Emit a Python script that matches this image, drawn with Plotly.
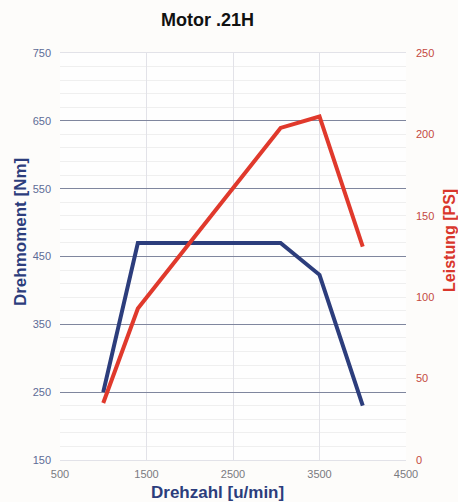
import plotly.graph_objects as go

# Data
rpm_torque = [1000, 1400, 3050, 3500, 4000]
torque_nm = [250, 470, 470, 423, 230]
rpm_power = [1000, 1400, 3050, 3500, 4000]
power_ps = [35, 93, 204, 211, 131]

x_ticks = [500, 1500, 2500, 3500, 4500]
y_left_ticks = [150, 250, 350, 450, 550, 650, 750]
y_right_ticks = [0, 50, 100, 150, 200, 250]

title_text = "Motor .21H"
x_title = "Drehzahl [u/min]"
y_left_title = "Drehmoment [Nm]"
y_right_title = "Leistung [PS]"

BLUE = "#2c3d7c"
RED = "#e0392c"
FONT = "Liberation Sans, Arial, sans-serif"

fig = go.Figure()
fig.add_trace(go.Scatter(x=rpm_torque, y=torque_nm, mode="lines",
                         line=dict(color=BLUE, width=4), yaxis="y",
                         showlegend=False))
fig.add_trace(go.Scatter(x=rpm_power, y=power_ps, mode="lines",
                         line=dict(color=RED, width=4), yaxis="y2",
                         showlegend=False))

fig.update_layout(
    width=458, height=502,
    margin=dict(l=60, r=52, t=53, b=42),
    paper_bgcolor="#fdfcfa",
    plot_bgcolor="#fefefe",
    font=dict(family=FONT),
    xaxis=dict(range=[500, 4500], tickvals=x_ticks, ticktext=[str(v) for v in x_ticks],
               showgrid=True, gridcolor="#e2e2e8", gridwidth=1,
               showline=True, linecolor="#e2e2e8", linewidth=1, mirror=True,
               zeroline=False, ticks="", ticklabelstandoff=4,
               tickfont=dict(size=11, color="#7a7a80", family=FONT)),
    yaxis=dict(range=[150, 750], tickvals=y_left_ticks,
               showgrid=True, gridcolor="#7f869e", gridwidth=1,
               minor=dict(dtick=20, tick0=150, showgrid=True, gridcolor="#efefef", gridwidth=1),
               zeroline=False, ticks="", showline=False, ticklabelstandoff=8,
               tickfont=dict(size=11, color="#5d6b96", family=FONT)),
    yaxis2=dict(range=[0, 250], tickvals=y_right_ticks, overlaying="y", side="right",
                showgrid=False, zeroline=False, ticks="", showline=False, ticklabelstandoff=9,
                tickfont=dict(size=11, color="#c4493f", family=FONT)),
    annotations=[
        dict(text="<b>" + title_text + "</b>", xref="paper", yref="paper",
             x=0.426, y=1.081, xanchor="center", yanchor="middle", showarrow=False,
             font=dict(size=18, color="#111111", family=FONT)),
        dict(text="<b>" + y_left_title + "</b>", xref="paper", yref="paper",
             x=-0.1156, y=0.56, xanchor="center", yanchor="middle", showarrow=False,
             textangle=-90, font=dict(size=17, color=BLUE, family=FONT)),
        dict(text="<b>" + y_right_title + "</b>", xref="paper", yref="paper",
             x=1.124, y=0.5405, xanchor="center", yanchor="middle", showarrow=False,
             textangle=-90, font=dict(size=16, color="#d9362b", family=FONT)),
        dict(text="<b>" + x_title + "</b>", xref="paper", yref="paper",
             x=0.455, y=-0.081, xanchor="center", yanchor="middle", showarrow=False,
             font=dict(size=17, color=BLUE, family=FONT)),
    ],
)

fig.write_html("out.html", config={"displayModeBar": False},
               post_script="document.body.style.margin='0';document.body.style.padding='0';document.body.style.overflow='hidden';")
